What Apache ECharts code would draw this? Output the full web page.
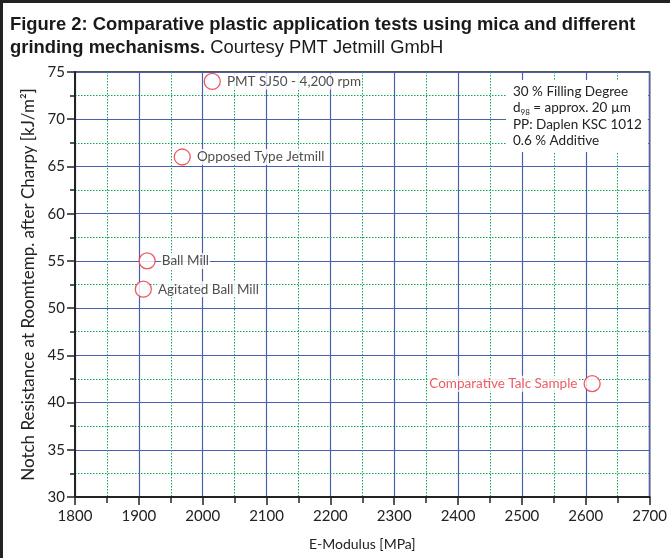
<!DOCTYPE html>
<html><head><meta charset="utf-8">
<script src="https://cdn.jsdelivr.net/npm/echarts@6/dist/echarts.min.js"></script>
<style>html,body{margin:0;padding:0;background:#fff}#c{width:670px;height:558px}</style>
</head><body><div id="c"></div>
<script>
const names = ['PMT SJ50 - 4,200 rpm', 'Opposed Type Jetmill', 'Ball Mill', 'Agitated Ball Mill', 'Comparative Talc Sample'];
const eModulus = [2015, 1968, 1913, 1907, 2610];
const notch = [74.0, 66.0, 55.0, 52.0, 42.0];
const labelSide = ['right', 'right', 'right', 'right', 'left'];
const noteLines = ['30 % Filling Degree', '{t|d}{s|98}{t| = approx. 20 µm}', 'PP: Daplen KSC 1012', '0.6 % Additive'];

const axisFont = 'Lato, "Noto Sans", sans-serif';
const titleFont = '"Liberation Sans", Arial, sans-serif';
const red = '#e8323c';
const chart = echarts.init(document.getElementById('c'));
const data = names.map((n, i) => ({
  value: [eModulus[i], notch[i]], name: n,
  label: {
    position: labelSide[i],
    color: i === 4 ? red : '#222'
  }
}));
chart.setOption({
  animation: false,
  backgroundColor: '#fff',
  title: {
    left: 5, top: 8,
    text: '{b|Figure 2: Comparative plastic application tests using mica and different}\n{b|grinding mechanisms.}{n| Courtesy PMT Jetmill GmbH}',
    textStyle: {
      rich: {
        b: { fontFamily: titleFont, fontWeight: 'bold', fontSize: 18.4, color: '#1a1a1a', lineHeight: 23 },
        n: { fontFamily: titleFont, fontWeight: 'normal', fontSize: 18.4, color: '#1a1a1a', lineHeight: 23 }
      }
    }
  },
  grid: { left: 75, right: 15, top: 72, bottom: 61, show: true, borderColor: '#222', borderWidth: 1.5, backgroundColor: 'transparent' },
  xAxis: {
    type: 'value', min: 1800, max: 2700, interval: 100,
    name: 'E-Modulus [MPa]', nameLocation: 'middle', nameGap: 40,
    nameTextStyle: { fontFamily: axisFont, fontSize: 14, color: '#222' },
    axisLine: { show: true, lineStyle: { color: '#222', width: 2 } },
    axisTick: { show: true, inside: false, length: 8, lineStyle: { color: '#222', width: 1.5 } },
    minorTick: { show: true, splitNumber: 2, length: 6, lineStyle: { color: '#222', width: 1.5 } },
    axisLabel: { fontFamily: axisFont, fontSize: 15, color: '#222', margin: 12, formatter: v => String(v) },
    splitLine: { show: true, lineStyle: { color: '#4a5fae', width: 1.2 } },
    minorSplitLine: { show: true, lineStyle: { color: '#10a850', width: 1, type: [1.5, 1.5] } }
  },
  yAxis: {
    type: 'value', min: 30, max: 75, interval: 5,
    name: 'Notch Resistance at Roomtemp. after Charpy [kJ/m²]', nameLocation: 'middle', nameGap: 37,
    nameTextStyle: { fontFamily: axisFont, fontSize: 17, color: '#222' },
    axisLine: { show: true, lineStyle: { color: '#222', width: 2 } },
    axisTick: { show: true, inside: false, length: 8, lineStyle: { color: '#222', width: 1.5 } },
    minorTick: { show: true, splitNumber: 2, length: 5, lineStyle: { color: '#222', width: 1.5 } },
    axisLabel: { fontFamily: axisFont, fontSize: 15, color: '#222', margin: 10, formatter: v => String(v) },
    splitLine: { show: true, lineStyle: { color: '#4a5fae', width: 1.2 } },
    minorSplitLine: { show: true, lineStyle: { color: '#10a850', width: 1, type: [1.5, 1.5] } }
  },
  series: [{
    type: 'scatter',
    symbol: 'circle', symbolSize: 16,
    itemStyle: { color: '#fff', borderColor: red, borderWidth: 1.3 },
    label: {
      show: true, formatter: p => p.name, distance: 5,
      fontFamily: axisFont, fontSize: 13.5, backgroundColor: '#fff', padding: [1, 1]
    },
    data: data,
    z: 5
  }],
  graphic: [
    { type: 'rect', left: 0, top: 0, shape: { width: 670, height: 3 }, style: { fill: '#222' }, z: 100 },
    { type: 'rect', left: 0, top: 0, shape: { width: 3, height: 558 }, style: { fill: '#222' }, z: 100 },
    {
      type: 'text', left: 506, top: 80, z: 50,
      style: {
        text: noteLines.join('\n'),
        backgroundColor: '#fff', padding: [3, 6, 3, 7],
        fontFamily: axisFont, fontSize: 13.5, lineHeight: 16.5, fill: '#222',
        rich: {
          t: { fontFamily: axisFont, fontSize: 13.5, fill: '#222', lineHeight: 16.5 },
          s: { fontFamily: axisFont, fontSize: 8, fill: '#222', verticalAlign: 'bottom', padding: [6, 0, 0, 0] }
        }
      }
    }
  ]
});
</script></body></html>
